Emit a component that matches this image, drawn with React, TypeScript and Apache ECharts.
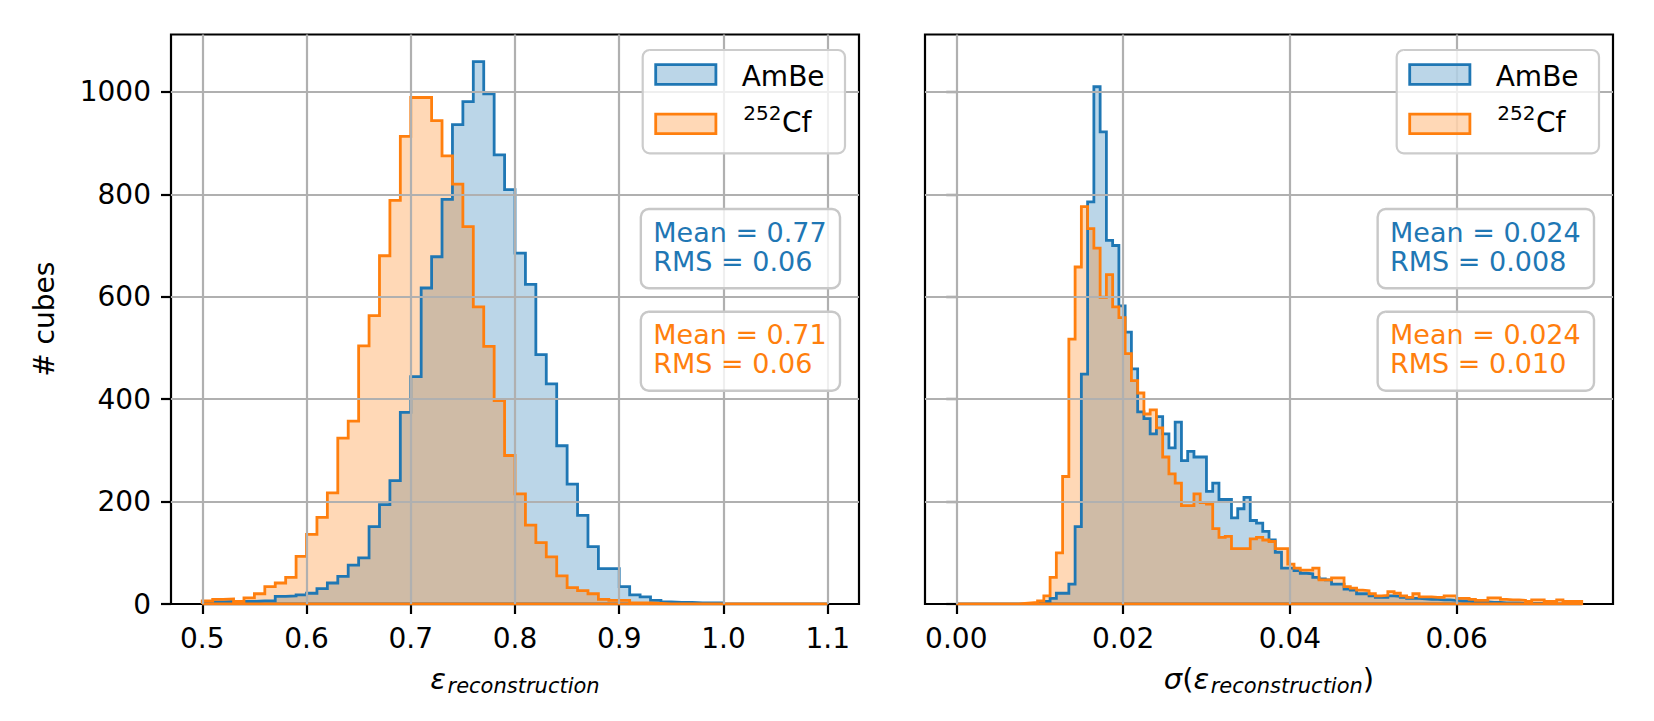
import React, { useEffect, useRef } from "react";
import * as echarts from "echarts";

// ---------- data ----------
const effLo = 0.5;
const effBinW = 0.01;
const effAmBe = [
  4, 4, 5, 5, 5, 6, 6, 15, 16, 18,
  21, 30, 41, 54, 76, 90, 151, 194, 241, 374,
  444, 617, 678, 790, 936, 981, 1059, 996, 877, 809,
  685, 624, 487, 430, 309, 234, 173, 112, 69, 69,
  34, 18, 14, 7, 4, 3, 3, 2, 2, 2,
  0, 0, 0, 0, 0, 0, 0, 0, 0, 0,
];
const effCf = [
  6, 9, 10, 5, 12, 20, 34, 41, 52, 93,
  136, 169, 217, 324, 357, 504, 563, 680, 788, 913,
  989, 989, 944, 875, 820, 737, 580, 503, 397, 290,
  215, 154, 120, 92, 55, 32, 26, 20, 9, 7,
  7, 2, 2, 1, 0, 0, 0, 0, 0, 0,
  0, 0, 0, 0, 0, 0, 0, 0, 0, 0,
];
const sigLo = 0;
const sigBinW = 0.00075;
const sigAmBe = [
  0, 0, 0, 0, 0, 0, 0, 0, 0, 0,
  0, 0, 1, 2, 5, 11, 21, 21, 39, 151,
  449, 785, 1010, 922, 710, 700, 582, 531, 459, 375,
  362, 332, 366, 332, 305, 355, 280, 298, 287, 287,
  220, 236, 204, 204, 168, 186, 208, 163, 158, 142,
  125, 101, 70, 70, 65, 60, 59, 52, 49, 47,
  39, 39, 29, 27, 20, 20, 16, 13, 13, 16,
  15, 13, 11, 11, 10, 9, 9, 8, 8, 7,
  6, 6, 5, 4, 4, 3, 3, 2, 2, 2,
  1, 1, 1, 1, 1, 0, 0, 0, 0, 0,
];
const sigCf = [
  0, 0, 0, 0, 0, 0, 0, 0, 0, 0,
  1, 2, 3, 6, 16, 52, 100, 249, 517, 658,
  776, 733, 695, 599, 643, 580, 559, 489, 436, 412,
  371, 379, 344, 287, 254, 236, 192, 192, 215, 198,
  195, 147, 130, 132, 108, 108, 108, 127, 130, 125,
  122, 108, 108, 78, 70, 66, 66, 70, 47, 47,
  51, 51, 34, 31, 27, 26, 20, 16, 17, 24,
  21, 16, 13, 20, 14, 14, 13, 13, 16, 16,
  11, 11, 9, 7, 7, 12, 12, 9, 8, 8,
  7, 5, 8, 8, 5, 5, 8, 5, 5, 5,
];
const effTicks = [0.5, 0.6, 0.7, 0.8, 0.9, 1.0, 1.1];
const sigTicks = [0, 0.02, 0.04, 0.06];
const countTicks = [0, 200, 400, 600, 800, 1000];
const seriesNames = ["AmBe", "Cf"];
const effStats = [
  ["Mean = 0.77", "RMS = 0.06"],
  ["Mean = 0.71", "RMS = 0.06"],
];
const sigStats = [
  ["Mean = 0.024", "RMS = 0.008"],
  ["Mean = 0.024", "RMS = 0.010"],
];

// ---------- styles ----------
const BLUE = "#1f77b4";
const ORANGE = "#ff7f0e";
const BLUE_FILL = "rgba(31,119,180,0.3)";
const ORANGE_FILL = "rgba(255,127,14,0.3)";
const FONT = "DejaVu Sans";
const W = 1654;
const H = 721;
const GRID_TOP = 34.5;
const GRID_H = 569.5;
const GRID_W = 688;
const GRID_LEFTS = [171, 925];
const Y_MAX = 1112;

function histPoints(lo: number, w: number, vals: number[]) {
  const pts: number[][] = [[lo, 0]];
  vals.forEach((v, k) => {
    pts.push([lo + k * w, v]);
    pts.push([lo + (k + 1) * w, v]);
  });
  pts.push([lo + vals.length * w, 0]);
  pts.push([lo, 0]);
  return pts;
}

const measureCtx =
  typeof document !== "undefined"
    ? document.createElement("canvas").getContext("2d")
    : null;
function tw(text: string, size: number, italic = false) {
  if (!measureCtx) return text.length * size * 0.6;
  measureCtx.font = `${italic ? "italic " : ""}${size}px "${FONT}"`;
  return measureCtx.measureText(text).width;
}

function txt(
  text: string,
  x: number,
  baseline: number,
  size: number,
  color = "#000",
  italic = false,
  align = "left"
) {
  return {
    type: "text",
    x,
    y: baseline - 0.346 * size,
    z: 100,
    silent: true,
    style: {
      text,
      fill: color,
      fontSize: size,
      fontFamily: FONT,
      fontStyle: italic ? "italic" : "normal",
      align,
      textAlign: align,
      verticalAlign: "middle",
      textVerticalAlign: "middle",
    },
  };
}

function legendGraphics(gl: number) {
  const els: any[] = [];
  els.push({
    type: "rect",
    z: 100,
    silent: true,
    shape: { x: gl + 471.7, y: 50, width: 202.3, height: 103.3, r: 7 },
    style: { fill: "rgba(255,255,255,0.8)", stroke: "#cccccc", lineWidth: 2.2 },
  });
  els.push({
    type: "rect",
    z: 101,
    silent: true,
    shape: { x: gl + 484.7, y: 64.7, width: 60.2, height: 19.6 },
    style: { fill: BLUE_FILL, stroke: BLUE, lineWidth: 2.8 },
  });
  els.push({
    type: "rect",
    z: 101,
    silent: true,
    shape: { x: gl + 484.7, y: 114.1, width: 60.2, height: 19.5 },
    style: { fill: ORANGE_FILL, stroke: ORANGE, lineWidth: 2.8 },
  });
  els.push(txt(seriesNames[0], gl + 570.7, 85.7, 28));
  const supX = gl + 572.3;
  els.push(txt("252", supX, 120, 20));
  els.push(txt(seriesNames[1], supX + tw("252", 20) + 0.5, 132.3, 28));
  return els;
}

function statsGraphics(gl: number, stats: string[][]) {
  const els: any[] = [];
  const right = gl + GRID_W - 19;
  const boxes = [
    { top: 209, bottom: 288.3, b1: 241.7, b2: 270.7, color: BLUE },
    { top: 311.7, bottom: 390.7, b1: 344, b2: 373.3, color: ORANGE },
  ];
  boxes.forEach((b, i) => {
    const lines = stats[i];
    const maxW = Math.max(...lines.map((l) => tw(l, 27)));
    const width = maxW + 25.7;
    const left = right - width;
    els.push({
      type: "rect",
      z: 100,
      silent: true,
      shape: { x: left, y: b.top, width, height: b.bottom - b.top, r: 8 },
      style: { fill: "rgba(255,255,255,0.8)", stroke: "#c8c8c8", lineWidth: 2.4 },
    });
    els.push(txt(lines[0], left + 12.4, b.b1, 27, b.color));
    els.push(txt(lines[1], left + 12.4, b.b2, 27, b.color));
  });
  return els;
}

function titlePieces(
  pieces: { t: string; size: number; italic: boolean; sub?: boolean }[],
  cx: number,
  baseline: number
) {
  const widths = pieces.map((p) => tw(p.t, p.size, p.italic) + (p.sub ? 1.5 : 0));
  const total = widths.reduce((a, b) => a + b, 0);
  let x = cx - total / 2;
  const els: any[] = [];
  pieces.forEach((p, i) => {
    els.push(txt(p.t, x + (p.sub ? 1.5 : 0), baseline + (p.sub ? 4 : 0), p.size, "#000", p.italic));
    x += widths[i];
  });
  return els;
}

function buildOption() {
  const gridLines = (ticks: number[]) => [
    ...ticks.map((v) => ({ xAxis: v })),
    ...countTicks.filter((v) => v > 0).map((v) => ({ yAxis: v })),
  ];
  const mkSeries = (
    name: string,
    idx: number,
    pts: number[][],
    color: string,
    fill: string,
    ticks: number[] | null
  ) => {
    const s: any = {
      type: "line",
      name,
      xAxisIndex: idx,
      yAxisIndex: idx,
      data: pts,
      symbol: "none",
      showSymbol: false,
      silent: true,
      clip: true,
      lineStyle: { color, width: 2.8, join: "miter", cap: "butt" },
      itemStyle: { color },
      areaStyle: { color: fill, opacity: 1, origin: "start" },
      emphasis: { disabled: true },
    };
    if (ticks) {
      s.markLine = {
        silent: true,
        symbol: ["none", "none"],
        label: { show: false },
        emphasis: { disabled: true },
        animation: false,
        lineStyle: { color: "#b0b0b0", width: 2.2, type: "solid", opacity: 1 },
        data: gridLines(ticks),
      };
    }
    return s;
  };

  const xAxisBase = (idx: number, min: number, max: number, ticks: number[], dec: number) => ({
    type: "value",
    gridIndex: idx,
    min,
    max,
    axisLine: { show: false },
    axisTick: {
      show: true,
      inside: false,
      length: 10,
      customValues: ticks,
      lineStyle: { color: "#000", width: 2.2 },
    },
    axisLabel: {
      show: true,
      customValues: ticks,
      formatter: (v: number) => v.toFixed(dec),
      color: "#000",
      fontSize: 28,
      fontFamily: FONT,
      margin: 20,
    },
    splitLine: { show: false },
  });
  const yAxisBase = (idx: number, showLabels: boolean) => ({
    type: "value",
    gridIndex: idx,
    min: 0,
    max: Y_MAX,
    interval: 200,
    axisLine: { show: false },
    axisTick: {
      show: true,
      inside: false,
      length: 10,
      customValues: countTicks,
      lineStyle: { color: "#000", width: 2.2 },
    },
    axisLabel: {
      show: showLabels,
      customValues: countTicks,
      formatter: (v: number) => String(Math.round(v)),
      color: "#000",
      fontSize: 28,
      fontFamily: FONT,
      margin: 20,
    },
    splitLine: { show: false },
  });

  const graphics: any[] = [
    ...legendGraphics(GRID_LEFTS[0]),
    ...legendGraphics(GRID_LEFTS[1]),
    ...statsGraphics(GRID_LEFTS[0], effStats),
    ...statsGraphics(GRID_LEFTS[1], sigStats),
    {
      type: "text",
      x: 44,
      y: GRID_TOP + GRID_H / 2,
      rotation: Math.PI / 2,
      z: 100,
      silent: true,
      style: {
        text: "# cubes",
        fill: "#000",
        fontSize: 28,
        fontFamily: FONT,
        align: "center",
        textAlign: "center",
        verticalAlign: "middle",
        textVerticalAlign: "middle",
      },
    },
    ...titlePieces(
      [
        { t: "ε", size: 29, italic: true },
        { t: "reconstruction", size: 21, italic: true, sub: true },
      ],
      GRID_LEFTS[0] + GRID_W / 2,
      689
    ),
    ...titlePieces(
      [
        { t: "σ", size: 29, italic: true },
        { t: "(", size: 29, italic: false },
        { t: "ε", size: 29, italic: true },
        { t: "reconstruction", size: 21, italic: true, sub: true },
        { t: ")", size: 29, italic: false },
      ],
      GRID_LEFTS[1] + GRID_W / 2,
      689
    ),
  ];

  return {
    animation: false,
    backgroundColor: "#ffffff",
    textStyle: { fontFamily: FONT },
    grid: GRID_LEFTS.map((l) => ({
      left: l,
      top: GRID_TOP,
      width: GRID_W,
      height: GRID_H,
      show: true,
      borderColor: "#000",
      borderWidth: 2.2,
      backgroundColor: "transparent",
      containLabel: false,
      outerBoundsMode: "none",
    })),
    xAxis: [
      xAxisBase(0, 0.47, 1.13, effTicks, 1),
      xAxisBase(1, -0.00375, 0.07875, sigTicks, 2),
    ],
    yAxis: [yAxisBase(0, true), yAxisBase(1, false)],
    series: [
      mkSeries("AmBe", 0, histPoints(effLo, effBinW, effAmBe), BLUE, BLUE_FILL, null),
      mkSeries("Cf", 0, histPoints(effLo, effBinW, effCf), ORANGE, ORANGE_FILL, effTicks),
      mkSeries("AmBe ", 1, histPoints(sigLo, sigBinW, sigAmBe), BLUE, BLUE_FILL, null),
      mkSeries("Cf ", 1, histPoints(sigLo, sigBinW, sigCf), ORANGE, ORANGE_FILL, sigTicks),
    ],
    graphic: { elements: graphics },
  };
}

export default function App() {
  const ref = useRef<HTMLDivElement>(null);
  useEffect(() => {
    if (!ref.current) return;
    const chart = echarts.init(ref.current, undefined, { renderer: "svg", width: W, height: H });
    chart.setOption(buildOption() as any);
    return () => chart.dispose();
  }, []);
  return (
    <div
      ref={ref}
      style={{ position: "fixed", left: 0, top: 0, width: W, height: H, background: "#fff" }}
    />
  );
}
